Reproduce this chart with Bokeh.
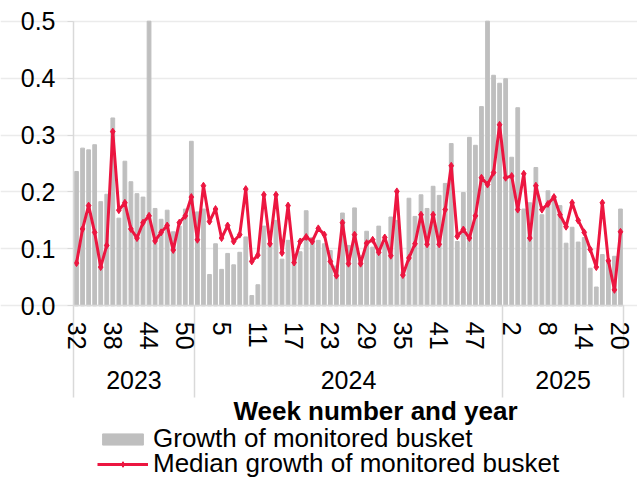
from bokeh.plotting import figure
from bokeh.models import (Range1d, FixedTicker, LinearAxis, Legend, LegendItem,
                          NumeralTickFormatter, Label)
from bokeh.embed import file_html
from bokeh.resources import INLINE

years = ["2023", "2024", "2025"]
weeks_2023 = list(range(32, 52))
weeks_2024 = list(range(1, 52))
weeks_2025 = list(range(1, 21))

growth = [
    0.236, 0.277, 0.274, 0.283, 0.183, 0.196, 0.330, 0.154, 0.254, 0.218,
    0.197, 0.191, 0.500, 0.171, 0.152, 0.168, 0.130, 0.140, 0.170, 0.289,
    0.165, 0.170, 0.055, 0.109, 0.064, 0.092, 0.072, 0.094, 0.121, 0.018,
    0.037, 0.140, 0.109, 0.150, 0.082, 0.115, 0.090, 0.095, 0.167, 0.120,
    0.115, 0.109, 0.097, 0.070, 0.163, 0.106, 0.172, 0.088, 0.131, 0.103,
    0.140, 0.110, 0.156, 0.150, 0.060, 0.189, 0.157, 0.195, 0.171, 0.210,
    0.194, 0.215, 0.285, 0.113, 0.199, 0.296, 0.282, 0.350, 0.500, 0.405,
    0.391, 0.399, 0.261, 0.348, 0.170, 0.181, 0.243, 0.160, 0.202, 0.190,
    0.176, 0.110, 0.138, 0.112, 0.120, 0.066, 0.033, 0.090, 0.080, 0.087,
    0.170,
]
median = [
    0.075, 0.135, 0.176, 0.129, 0.068, 0.106, 0.306, 0.168, 0.181, 0.135,
    0.119, 0.146, 0.158, 0.114, 0.129, 0.141, 0.098, 0.146, 0.158, 0.191,
    0.116, 0.211, 0.148, 0.170, 0.119, 0.141, 0.113, 0.125, 0.205, 0.078,
    0.089, 0.195, 0.109, 0.195, 0.093, 0.176, 0.076, 0.113, 0.121, 0.113,
    0.136, 0.125, 0.078, 0.053, 0.146, 0.074, 0.125, 0.074, 0.110, 0.116,
    0.094, 0.120, 0.088, 0.201, 0.054, 0.084, 0.109, 0.160, 0.108, 0.160,
    0.108, 0.169, 0.246, 0.122, 0.134, 0.119, 0.158, 0.225, 0.213, 0.234,
    0.318, 0.225, 0.228, 0.169, 0.232, 0.119, 0.211, 0.169, 0.179, 0.191,
    0.160, 0.139, 0.181, 0.150, 0.129, 0.099, 0.068, 0.181, 0.079, 0.028,
    0.130,
]
y_ticks = [0.0, 0.1, 0.2, 0.3, 0.4, 0.5]
label_every = 6

week_groups = [weeks_2023, weeks_2024, weeks_2025]
weeks = weeks_2023 + weeks_2024 + weeks_2025
n = len(weeks)
xs = [i + 0.5 for i in range(n)]

FONT = "Liberation Sans"
BAR = "#BFBFBF"
RED = "#EC1640"
AXIS = "#D9D9D9"

# layout: the frame covers the whole canvas; the value area sits inside it
W, H = 637, 479
AREA_L, AREA_R = 73, 623      # pixel edges of the value area
AREA_T, AREA_B = 20.7, 305.3
px_per_x = (AREA_R - AREA_L) / n
px_per_y = (AREA_B - AREA_T) / (y_ticks[-1] - y_ticks[0])
x_start = -AREA_L / px_per_x
x_end = n + (W - AREA_R) / px_per_x
y_max = y_ticks[-1] + AREA_T / px_per_y
y_min = y_ticks[0] - (H - AREA_B) / px_per_y

p = figure(width=W, height=H, output_backend="svg", toolbar_location=None,
           x_range=Range1d(x_start, x_end), y_range=Range1d(y_min, y_max),
           min_border_left=0, min_border_right=0, min_border_top=0,
           min_border_bottom=0)
p.outline_line_color = None
p.background_fill_color = "white"
p.border_fill_color = "white"

bars = p.vbar(x=xs, top=growth, width=0.62, color=BAR)
line = p.line(xs, median, line_color=RED, line_width=3)
pts = p.scatter(xs, median, marker="diamond", size=7, color=RED)

# y axis at x=0
ya = p.yaxis[0]
ya.fixed_location = 0
ya.ticker = FixedTicker(ticks=y_ticks)
ya.bounds = (y_ticks[0], y_ticks[-1])
ya.formatter = NumeralTickFormatter(format="0.0")
ya.axis_line_color = AXIS
ya.axis_line_width = 1.5
ya.major_tick_line_color = AXIS
ya.major_tick_out = 6
ya.major_tick_in = 0
ya.minor_tick_line_color = None
ya.major_label_standoff = 12
ya.major_label_text_font = FONT
ya.major_label_text_font_size = "25px"
ya.major_label_text_color = "black"

p.xgrid.visible = False
p.ygrid.grid_line_color = "#EBEBEB"
p.ygrid.grid_line_width = 1.5
p.ygrid.bounds = (0, n)

# week axis at y=0 (minor ticks = year separators)
tick_pos = [xs[i] for i in range(0, n, label_every)]
overrides = {xs[i]: str(weeks[i]) for i in range(0, n, label_every)}
bounds = [0]
for g in week_groups:
    bounds.append(bounds[-1] + len(g))
xa = p.xaxis[0]
xa.fixed_location = 0
xa.bounds = (0, n)
xa.ticker = FixedTicker(ticks=tick_pos, minor_ticks=bounds)
xa.major_label_overrides = overrides
xa.major_label_orientation = "vertical"
xa.major_tick_line_color = None
xa.major_tick_out = 0
xa.major_tick_in = 0
xa.minor_tick_line_color = AXIS
xa.minor_tick_out = 92
xa.minor_tick_in = 0
xa.minor_tick_line_width = 1.5
xa.axis_line_color = AXIS
xa.axis_line_width = 1.5
xa.major_label_standoff = -76
xa.major_label_text_font = FONT
xa.major_label_text_font_size = "25px"
xa.major_label_text_color = "black"

# year axis at y=0
centers = [(bounds[k] + bounds[k + 1]) / 2 for k in range(len(years))]
ya2 = LinearAxis(fixed_location=0, bounds=(0, n),
                 ticker=FixedTicker(ticks=centers, minor_ticks=[]),
                 major_label_overrides={c: y for c, y in zip(centers, years)},
                 axis_line_color=None, major_tick_line_color=None,
                 minor_tick_line_color=None, major_tick_out=0, major_tick_in=0,
                 major_label_standoff=65,
                 major_label_text_font=FONT, major_label_text_font_size="25px",
                 major_label_text_color="black")
p.add_layout(ya2, "below")

title = Label(x=375, y=69, x_units="screen", y_units="screen",
              text="Week number and year", text_align="center",
              text_baseline="middle", text_font=FONT, text_font_size="26px",
              text_font_style="bold", text_color="black")
p.add_layout(title)

def mk_legend(label, rends, loc):
    return Legend(items=[LegendItem(label=label, renderers=rends)], location=loc,
                  orientation="vertical", padding=0, margin=0, spacing=0,
                  glyph_width=51, glyph_height=14, label_standoff=5,
                  label_height=14, label_text_font=FONT,
                  label_text_font_size="26px", label_text_color="black",
                  border_line_color=None, background_fill_alpha=0)

p.add_layout(mk_legend("Growth of monitored busket", [bars], (97, 25)))
p.add_layout(mk_legend("Median growth of monitored busket", [line, pts], (97, 0)))

open("out.html", "w").write(file_html(p, INLINE))
